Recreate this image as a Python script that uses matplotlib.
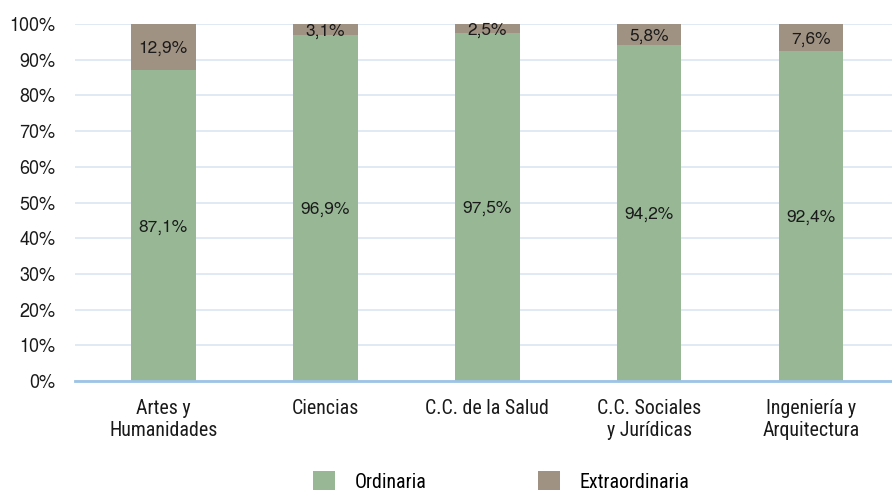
import matplotlib
matplotlib.use("Agg")
import matplotlib.pyplot as plt
import numpy as np

categories = ["Artes y\nHumanidades", "Ciencias", "C.C. de la Salud",
              "C.C. Sociales\ny Jurídicas", "Ingeniería y\nArquitectura"]
ordinaria = [87.1, 96.9, 97.5, 94.2, 92.4]
extraordinaria = [12.9, 3.1, 2.5, 5.8, 7.6]
series_names = ["Ordinaria", "Extraordinaria"]
yticks = [0, 10, 20, 30, 40, 50, 60, 70, 80, 90, 100]

narrow = ["Roboto Condensed", "Archivo Narrow", "DejaVu Sans"]
regular = ["TeX Gyre Heros", "Liberation Sans", "DejaVu Sans"]

green = "#97B795"
brown = "#A09282"
txt = "#1a1a1a"

fig = plt.figure(figsize=(8.92, 4.97), dpi=100)
ax = fig.add_axes([75/892, 1 - 381/497, (892-75)/892, (381-24)/497])

x = np.arange(len(categories))
w = 0.4
b1 = ax.bar(x, ordinaria, w, color=green, label=series_names[0], zorder=3)
b2 = ax.bar(x, extraordinaria, w, bottom=ordinaria, color=brown, label=series_names[1], zorder=3)

for xi, o, e in zip(x, ordinaria, extraordinaria):
    ax.text(xi, o/2, f"{o:.1f}%".replace(".", ","), ha="center", va="center_baseline",
            fontsize=12.5, family=regular, color=txt, zorder=4)
    ax.text(xi, o + e/2, f"{e:.1f}%".replace(".", ","), ha="center", va="center_baseline",
            fontsize=12.5, family=regular, color=txt, zorder=4)

ax.set_xlim(-0.545, 4.5)
ax.set_ylim(0, 100)
ax.set_yticks(yticks)
ax.set_yticklabels([f"{t}%" for t in yticks], family=regular, fontsize=13, color=txt)
ax.set_xticks(x)
ax.set_xticklabels(categories, family=narrow, fontsize=14.3, color=txt, linespacing=1.2)
ax.tick_params(axis="both", length=0)
ax.tick_params(axis="x", pad=13)
ax.tick_params(axis="y", pad=14)
ax.grid(axis="y", color="#DCE6F0", linewidth=1.2, zorder=0)
for s in ["top", "right", "left"]:
    ax.spines[s].set_visible(False)
ax.spines["bottom"].set_color("#9DC3E6")
ax.spines["bottom"].set_linewidth(2)
ax.spines["bottom"].set_zorder(5)

leg = fig.legend(handles=[b1, b2], labels=series_names, loc="lower center",
                 bbox_to_anchor=(0.562, -0.025), ncol=2, frameon=False,
                 prop={"family": narrow, "size": 14.3}, handlelength=1.1,
                 handleheight=1.1, columnspacing=5.6, handletextpad=1.0)

fig.savefig("out.png", dpi=100)
